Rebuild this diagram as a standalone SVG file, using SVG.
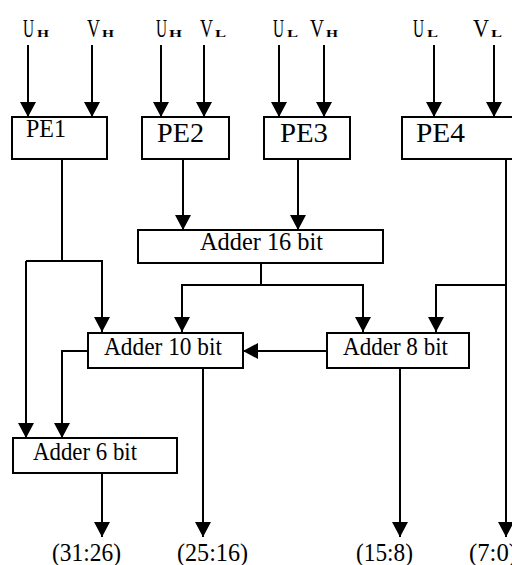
<svg xmlns="http://www.w3.org/2000/svg" width="512" height="565" viewBox="0 0 512 565">
<style>
.box{fill:#fff;stroke:#000;stroke-width:2}
.ln{fill:none;stroke:#000;stroke-width:2}
.ar{fill:none;stroke:#000;stroke-width:2;marker-end:url(#ah)}
text{font-family:"Liberation Serif","Times New Roman",serif;fill:#000}
.m{font-size:25px}
.s{font-size:11px;font-weight:bold}
.t{font-size:25px}
.pe{font-size:28px}
</style>
<defs>
<marker id="ah" markerUnits="userSpaceOnUse" viewBox="0 0 15 16" refX="15" refY="8" markerWidth="15" markerHeight="16" orient="auto">
<path d="M0,0 L15,8 L0,16 z" fill="#000"/>
</marker>
</defs>
<rect width="512" height="565" fill="#fff"/>
<g id="inputs">
<text x="23" y="37"><tspan class="m" textLength="11" lengthAdjust="spacingAndGlyphs">U</tspan><tspan class="s" x="37" textLength="12" lengthAdjust="spacingAndGlyphs">H</tspan></text>
<text x="87" y="37"><tspan class="m" textLength="13" lengthAdjust="spacingAndGlyphs">V</tspan><tspan class="s" x="102" textLength="12" lengthAdjust="spacingAndGlyphs">H</tspan></text>
<text x="156" y="37"><tspan class="m" textLength="11" lengthAdjust="spacingAndGlyphs">U</tspan><tspan class="s" x="169" textLength="13" lengthAdjust="spacingAndGlyphs">H</tspan></text>
<text x="200" y="37"><tspan class="m" textLength="13" lengthAdjust="spacingAndGlyphs">V</tspan><tspan class="s" x="215" textLength="11" lengthAdjust="spacingAndGlyphs">L</tspan></text>
<text x="273" y="37"><tspan class="m" textLength="11" lengthAdjust="spacingAndGlyphs">U</tspan><tspan class="s" x="287" textLength="11" lengthAdjust="spacingAndGlyphs">L</tspan></text>
<text x="310" y="37"><tspan class="m" textLength="14" lengthAdjust="spacingAndGlyphs">V</tspan><tspan class="s" x="326" textLength="12" lengthAdjust="spacingAndGlyphs">H</tspan></text>
<text x="413" y="37"><tspan class="m" textLength="11" lengthAdjust="spacingAndGlyphs">U</tspan><tspan class="s" x="427" textLength="11" lengthAdjust="spacingAndGlyphs">L</tspan></text>
<text x="473" y="37"><tspan class="m" textLength="16" lengthAdjust="spacingAndGlyphs">V</tspan><tspan class="s" x="491" textLength="11" lengthAdjust="spacingAndGlyphs">L</tspan></text>
</g>
<g id="connectors">
<line class="ar" x1="28" y1="45" x2="28" y2="117"/>
<line class="ar" x1="92" y1="45" x2="92" y2="117"/>
<line class="ar" x1="161" y1="45" x2="161" y2="117"/>
<line class="ar" x1="204" y1="45" x2="204" y2="117"/>
<line class="ar" x1="279" y1="45" x2="279" y2="117"/>
<line class="ar" x1="324" y1="45" x2="324" y2="117"/>
<line class="ar" x1="434" y1="45" x2="434" y2="117"/>
<line class="ar" x1="494" y1="45" x2="494" y2="117"/>
<polyline class="ln" points="62,159 62,261"/>
<polyline class="ar" points="26,261 102,261 102,332"/>
<polyline class="ar" points="26,261 26,438"/>
<line class="ar" x1="183" y1="159" x2="183" y2="230"/>
<line class="ar" x1="298" y1="159" x2="298" y2="230"/>
<polyline class="ln" points="261,263 261,285"/>
<polyline class="ar" points="261,285 182,285 182,332"/>
<polyline class="ar" points="261,285 363,285 363,332"/>
<line class="ar" x1="506" y1="159" x2="506" y2="537"/>
<polyline class="ar" points="506,285 436,285 436,332"/>
<line class="ar" x1="327" y1="351" x2="243" y2="351"/>
<polyline class="ar" points="88,351 62,351 62,438"/>
<line class="ar" x1="203" y1="368" x2="203" y2="537"/>
<line class="ar" x1="400" y1="368" x2="400" y2="537"/>
<line class="ar" x1="102" y1="473" x2="102" y2="537"/>
</g>
<g id="pe1"><rect class="box" x="12" y="117" width="95" height="42"/><text class="pe" x="26" y="137" font-size="26" textLength="40" lengthAdjust="spacingAndGlyphs" style="font-size:26px">PE1</text></g>
<g id="pe2"><rect class="box" x="142" y="117" width="87" height="42"/><text class="pe" x="157" y="142" textLength="47" lengthAdjust="spacingAndGlyphs">PE2</text></g>
<g id="pe3"><rect class="box" x="264" y="117" width="86" height="42"/><text class="pe" x="280" y="142" textLength="48" lengthAdjust="spacingAndGlyphs">PE3</text></g>
<g id="pe4"><rect class="box" x="402" y="117" width="120" height="42"/><text class="pe" x="416" y="142" textLength="49" lengthAdjust="spacingAndGlyphs">PE4</text></g>
<g id="adder16"><rect class="box" x="138" y="230" width="245" height="33"/><text class="t" x="200" y="250" textLength="123" lengthAdjust="spacingAndGlyphs">Adder 16 bit</text></g>
<g id="adder10"><rect class="box" x="88" y="333" width="155" height="35"/><text class="t" x="104" y="355" textLength="118" lengthAdjust="spacingAndGlyphs">Adder 10 bit</text></g>
<g id="adder8"><rect class="box" x="327" y="333" width="142" height="35"/><text class="t" x="343" y="355" textLength="105" lengthAdjust="spacingAndGlyphs">Adder 8 bit</text></g>
<g id="adder6"><rect class="box" x="13" y="438" width="164" height="35"/><text class="t" x="33" y="460" textLength="104" lengthAdjust="spacingAndGlyphs">Adder 6 bit</text></g>
<g id="outputs">
<text class="t" x="52" y="561" textLength="69" lengthAdjust="spacingAndGlyphs">(31:26)</text>
<text class="t" x="177" y="561" textLength="71" lengthAdjust="spacingAndGlyphs">(25:16)</text>
<text class="t" x="356" y="561" textLength="57" lengthAdjust="spacingAndGlyphs">(15:8)</text>
<text class="t" x="469" y="561" textLength="48" lengthAdjust="spacingAndGlyphs">(7:0)</text>
</g>
</svg>
